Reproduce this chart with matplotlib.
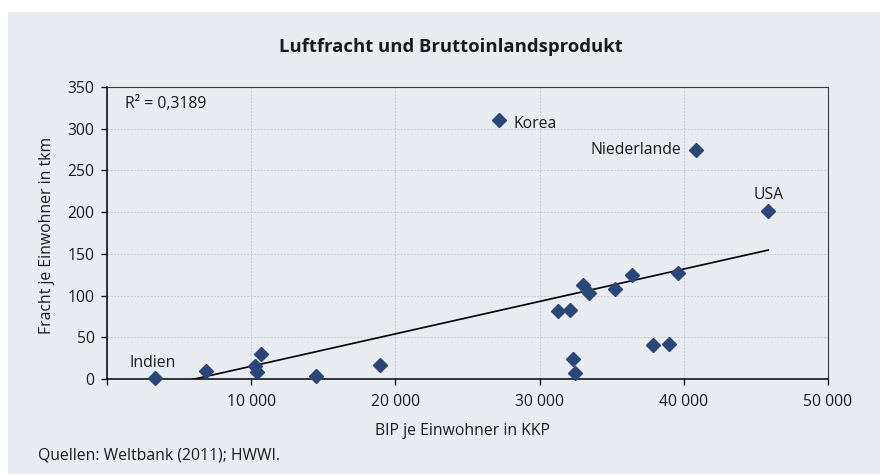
import numpy as np
import matplotlib.pyplot as plt
from matplotlib.patches import Rectangle
from matplotlib.ticker import FuncFormatter, MultipleLocator

plt.rcParams['font.family'] = ['Open Sans', 'DejaVu Sans']

# BIP je Einwohner in KKP (x) und Luftfracht je Einwohner in tkm (y)
bip = [3330, 6850, 10260, 10380, 10700, 14510, 18950, 27190, 40850, 45860,
       31280, 32130, 33030, 33450, 35200, 36410, 39620, 32300, 32480, 37890, 38950]
fracht = [1.5, 9.6, 15.6, 8.4, 30, 3.2, 16.4, 311, 274, 201,
          82, 83, 113, 103.5, 107.5, 125, 127.5, 24.4, 6.8, 40.4, 41.6]

beschriftet = {"Indien": 0, "Korea": 7, "Niederlande": 8, "USA": 9}
r2_text = "R² = 0,3189"

farbe_punkt = "#2b4678"
hintergrund = "#e8ebf0"
textfarbe = "#1a1a1a"
fs = 11.3

fig = plt.figure(figsize=(8.8, 4.74), dpi=100)
fig.patch.set_facecolor("white")
fig.add_artist(Rectangle((8 / 880, 0), 1, 1 - 12 / 474, transform=fig.transFigure,
                         facecolor=hintergrund, edgecolor="none", zorder=-10))

ax = fig.add_axes([107 / 880, 1 - 379 / 474, 721 / 880, 292 / 474])
ax.set_facecolor(hintergrund)

x = np.array(bip, dtype=float)
y = np.array(fracht, dtype=float)

ax.plot(x, y, linestyle="none", marker="D", markersize=7.2,
        color=farbe_punkt, zorder=3, clip_on=False)

# lineare Trendlinie
m, b = np.polyfit(x, y, 1)
xs = np.array([x.min(), x.max()])
ax.plot(xs, m * xs + b, color="black", linewidth=1.2, zorder=2)

ax.set_xlim(0, 50000)
ax.set_ylim(0, 350)
ax.xaxis.set_major_locator(MultipleLocator(10000))
ax.yaxis.set_major_locator(MultipleLocator(50))
ax.xaxis.set_major_formatter(FuncFormatter(
    lambda v, p: "" if v == 0 else f"{int(v):,}".replace(",", " ")))
ax.yaxis.set_major_formatter(FuncFormatter(lambda v, p: f"{int(v)}"))

ax.grid(True, linestyle=(0, (1.5, 1.5)), color="#c8c8c8", linewidth=0.8)
ax.set_axisbelow(True)

for s in ["left", "bottom"]:
    ax.spines[s].set_color("black")
    ax.spines[s].set_linewidth(1.1)
for s in ["top", "right"]:
    ax.spines[s].set_color("#3a3a3a")
    ax.spines[s].set_linewidth(0.8)

ax.tick_params(axis="both", direction="out", length=4, width=0.9,
               colors="black", labelcolor=textfarbe, labelsize=fs)
ax.tick_params(axis="x", pad=6.5)
ax.tick_params(axis="y", pad=5)

ax.set_xlabel("BIP je Einwohner in KKP", fontsize=fs, color=textfarbe, va="center")
ax.xaxis.set_label_coords(0.493, -52 / 292)
ax.set_ylabel("Fracht je Einwohner in tkm", fontsize=fs, color=textfarbe, va="center")
ax.yaxis.set_label_coords(-60 / 721, 0.49)

offsets = {"Indien": (-26, 15, "left"), "Korea": (14, -4, "left"),
           "Niederlande": (-15, 0, "right"), "USA": (0, 16, "center")}
for name, i in beschriftet.items():
    dx, dy, ha = offsets[name]
    ax.annotate(name, (x[i], y[i]), xytext=(dx, dy), textcoords="offset pixels",
                ha=ha, va="center", fontsize=fs, color=textfarbe)

ax.text(18 / 721, 1 - 17 / 292, r2_text, transform=ax.transAxes, ha="left", va="center",
        fontsize=fs, color=textfarbe)

fig.text(451 / 880, 1 - 47 / 474, "Luftfracht und Bruttoinlandsprodukt",
         ha="center", va="center", fontsize=13.3, fontweight="bold", color=textfarbe)
fig.text(38 / 880, 1 - 455 / 474, "Quellen: Weltbank (2011); HWWI.",
         ha="left", va="center", fontsize=fs, color=textfarbe)

fig.savefig("out.png", dpi=100)
